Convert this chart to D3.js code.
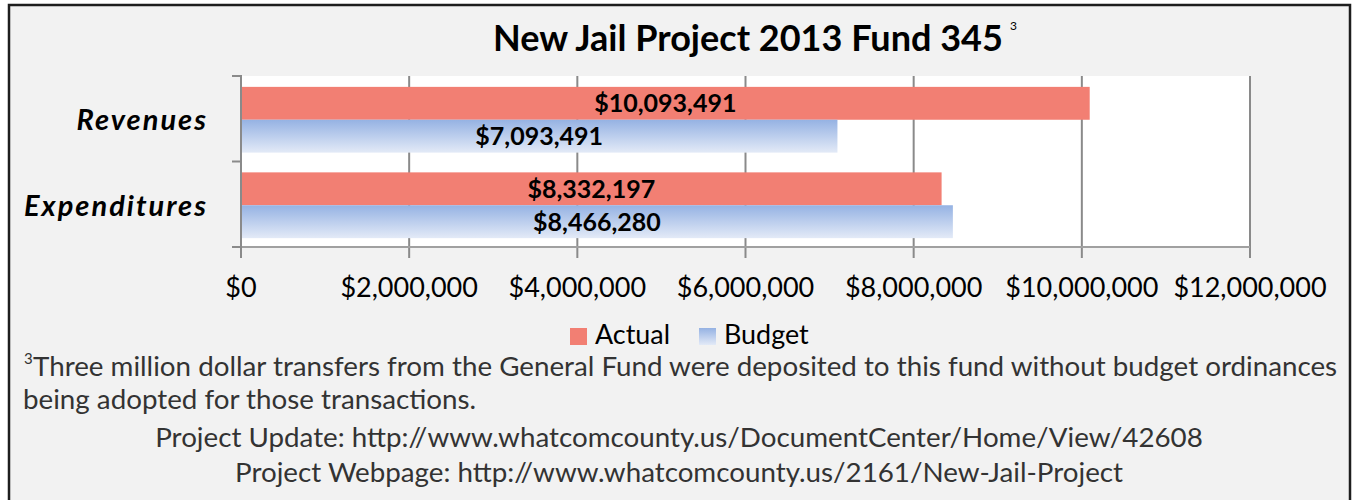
<!DOCTYPE html>
<html>
<head>
<meta charset="utf-8">
<script src="https://cdn.jsdelivr.net/npm/d3@7"></script>
<style>
  body { margin: 0; background: #ffffff; }
  svg { display: block; }
</style>
</head>
<body>
<svg id="chart" width="1353" height="500"></svg>
<script>
// Fund 345 figures
const categories = ["Revenues", "Expenditures"];
const seriesNames = ["Actual", "Budget"];
const actualValues = [10093491, 8332197];
const budgetValues = [7093491, 8466280];
const xTickValues = [0, 2000000, 4000000, 6000000, 8000000, 10000000, 12000000];
const titleText = "New Jail Project 2013 Fund 345";
const titleNote = "3";
const footnoteMark = "3";
const footnoteLines = [
  "Three million dollar transfers from the General Fund were deposited to this fund without budget ordinances",
  "being adopted for those transactions."
];
const linkLines = [
  "Project Update: http://www.whatcomcounty.us/DocumentCenter/Home/View/42608",
  "Project Webpage: http://www.whatcomcounty.us/2161/New-Jail-Project"
];

const svg = d3.select("#chart");
const plot = { left: 241, right: 1250, top: 76, bottom: 247 };
const fmt = d3.format("$,");
const gridColor = "#8a8a8a";
const actualColor = "#f27f73";
const noteColor = "#333333";
const font = "Lato, 'Noto Sans', sans-serif";

// scale a text element's font-size so that it spans the given width
function fitWidth(sel, width) {
  sel.each(function () {
    const fs = parseFloat(this.getAttribute("font-size"));
    const w = this.getComputedTextLength();
    if (w > 0) this.setAttribute("font-size", (fs * width / w).toFixed(2));
  });
  return sel;
}

// gradient for the Budget series
const defs = svg.append("defs");
const grad = defs.append("linearGradient")
  .attr("id", "budgetGrad").attr("x1", 0).attr("y1", 0).attr("x2", 0).attr("y2", 1);
grad.append("stop").attr("offset", 0).attr("stop-color", "#95b2e3");
grad.append("stop").attr("offset", 1).attr("stop-color", "#e3eaf7");

// chart frame
svg.append("rect")
  .attr("x", 9).attr("y", 5).attr("width", 1341).attr("height", 510)
  .attr("fill", "#f2f2f2").attr("stroke", "#1e1e1e").attr("stroke-width", 2.5);

// scales
const x = d3.scaleLinear().domain([0, 12000000]).range([plot.left, plot.right]);
const y = d3.scaleBand().domain(categories).range([plot.top, plot.bottom]);
const ySub = d3.scaleBand().domain(seriesNames).range([0, y.bandwidth()])
  .paddingInner(0).paddingOuter(0.3);

// plot area
svg.append("rect")
  .attr("x", plot.left).attr("y", plot.top)
  .attr("width", plot.right - plot.left).attr("height", plot.bottom - plot.top)
  .attr("fill", "#ffffff");

// vertical gridlines with ticks below the axis
svg.append("g").selectAll("line").data(xTickValues).join("line")
  .attr("x1", d => x(d)).attr("x2", d => x(d))
  .attr("y1", plot.top).attr("y2", plot.bottom + 11)
  .attr("stroke", gridColor).attr("stroke-width", 2);

// bars
const rows = categories.map((c, i) => ({
  category: c,
  values: [
    { series: "Actual", value: actualValues[i] },
    { series: "Budget", value: budgetValues[i] }
  ]
}));

const groups = svg.append("g").selectAll("g").data(rows).join("g")
  .attr("transform", d => `translate(0,${y(d.category) + 1})`);

groups.selectAll("rect").data(d => d.values).join("rect")
  .attr("x", x(0))
  .attr("y", d => ySub(d.series))
  .attr("width", d => x(d.value) - x(0))
  .attr("height", ySub.bandwidth())
  .attr("fill", d => d.series === "Actual" ? actualColor : "url(#budgetGrad)");

// data labels, centred on each bar
groups.selectAll("text").data(d => d.values).join("text")
  .attr("x", d => (x(0) + x(d.value)) / 2)
  .attr("y", d => ySub(d.series) + ySub.bandwidth() / 2)
  .attr("dy", "0.36em")
  .attr("text-anchor", "middle")
  .attr("font-family", font).attr("font-weight", 700)
  .attr("font-size", 25).attr("fill", "#000")
  .text(d => fmt(d.value));

// x axis line
svg.append("line")
  .attr("x1", plot.left).attr("x2", plot.right)
  .attr("y1", plot.bottom).attr("y2", plot.bottom)
  .attr("stroke", "#a0a0a0").attr("stroke-width", 2);

// y axis line and category ticks
const yAxis = svg.append("g");
yAxis.append("line")
  .attr("x1", plot.left).attr("x2", plot.left)
  .attr("y1", plot.top - 1).attr("y2", plot.bottom + 11)
  .attr("stroke", gridColor).attr("stroke-width", 2);
const catEdges = categories.map(c => y(c)).concat([plot.bottom]);
yAxis.selectAll("line.tick").data(catEdges).join("line")
  .attr("class", "tick")
  .attr("x1", plot.left - 9).attr("x2", plot.left)
  .attr("y1", d => d).attr("y2", d => d)
  .attr("stroke", gridColor).attr("stroke-width", 2);

// category labels
svg.append("g").selectAll("text").data(categories).join("text")
  .attr("x", 208)
  .attr("y", d => y(d) + y.bandwidth() / 2 + 1)
  .attr("dy", "0.36em")
  .attr("text-anchor", "end")
  .attr("font-family", font).attr("font-weight", 700).attr("font-style", "italic")
  .attr("font-size", 29).attr("letter-spacing", 2).attr("fill", "#000")
  .text(d => d);

// x tick labels
svg.append("g").selectAll("text").data(xTickValues).join("text")
  .attr("x", d => x(d))
  .attr("y", 297)
  .attr("text-anchor", "middle")
  .attr("font-family", font).attr("font-size", 27).attr("fill", "#000")
  .text(d => fmt(d));

// title
const title = svg.append("text")
  .attr("x", 748).attr("y", 51)
  .attr("text-anchor", "middle")
  .attr("font-family", font).attr("font-weight", 700)
  .attr("font-size", 31).attr("fill", "#000")
  .text(titleText);
fitWidth(title, 510);
const tb = title.node().getBBox();
svg.append("text")
  .attr("x", tb.x + tb.width + 7).attr("y", 30)
  .attr("font-family", font).attr("font-size", 12).attr("fill", "#000")
  .text(titleNote);

// legend
const legendItems = [
  { name: "Actual", x: 570, fill: actualColor },
  { name: "Budget", x: 699, fill: "url(#budgetGrad)" }
];
const lg = svg.append("g").selectAll("g").data(legendItems).join("g")
  .attr("transform", d => `translate(${d.x},327)`);
lg.append("rect").attr("y", 1).attr("width", 17).attr("height", 17).attr("fill", d => d.fill);
const legendText = lg.append("text")
  .attr("x", 25).attr("y", 16.5)
  .attr("font-family", font).attr("font-size", 26).attr("fill", "#000")
  .text(d => d.name);
fitWidth(legendText.filter((d, i) => i === 0), 75);
legendText.attr("font-size", legendText.filter((d, i) => i === 0).attr("font-size"));

// footnote
svg.append("text")
  .attr("x", 24).attr("y", 364)
  .attr("font-family", font).attr("font-size", 15).attr("fill", noteColor)
  .text(footnoteMark);
const fn1 = svg.append("text")
  .attr("x", 33).attr("y", 376)
  .attr("font-family", font).attr("font-size", 26).attr("fill", noteColor)
  .text(footnoteLines[0]);
fitWidth(fn1, 1304);
const fnSize = fn1.attr("font-size");
svg.append("text")
  .attr("x", 23).attr("y", 409)
  .attr("font-family", font).attr("font-size", fnSize).attr("fill", noteColor)
  .text(footnoteLines[1]);

svg.append("g").selectAll("text").data(linkLines).join("text")
  .attr("x", 679)
  .attr("y", (d, i) => 447 + i * 35)
  .attr("text-anchor", "middle")
  .attr("font-family", font).attr("font-size", fnSize).attr("fill", noteColor)
  .text(d => d);
</script>
</body>
</html>
